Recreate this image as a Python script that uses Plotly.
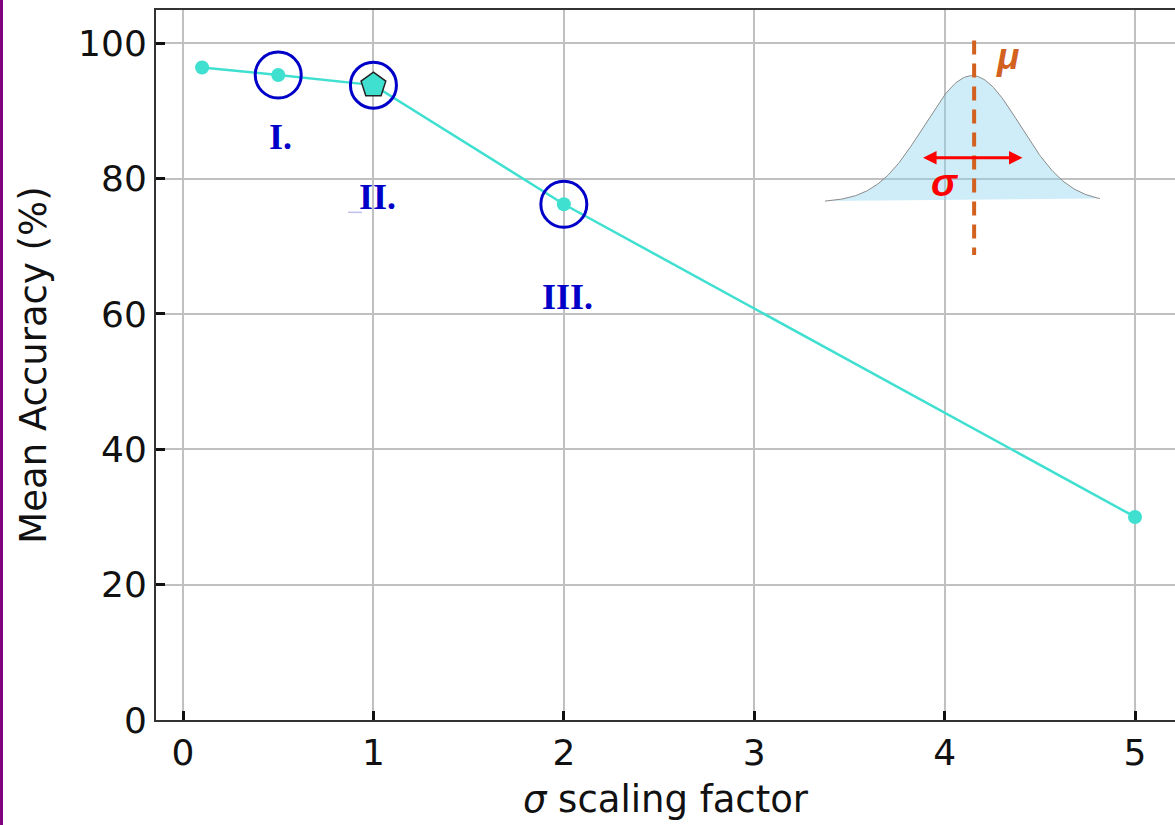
import numpy as np
import plotly.graph_objects as go

# ---- data ----
sigma_scale = [0.1, 0.5, 1, 2, 5]
mean_acc = [96.4, 95.3, 93.8, 76.2, 30.0]
highlight_x = [0.5, 1, 2]
highlight_labels = ["I.", "II.", "III."]
label_pos_x = [0.51, 1.02, 2.02]
label_pos_y = [86.1, 77.2, 62.5]
baseline_x = [1]
x_ticks = [0, 1, 2, 3, 4, 5]
y_ticks = [0, 20, 40, 60, 80, 100]

highlight_y = [mean_acc[sigma_scale.index(v)] for v in highlight_x]
baseline_y = [mean_acc[sigma_scale.index(v)] for v in baseline_x]

TEAL = "#40E0D0"
BLUE = "#0000C8"
FONT = "DejaVu Sans"

fig = go.Figure()

# ---- inset illustration of a Gaussian (decorative) ----
mu_g, sd_g, base_g, amp_g = 4.145, 0.252, 76.5, 18.7
gx = np.linspace(3.372, 4.816, 200)
gy = base_g + amp_g * np.exp(-((gx - mu_g) ** 2) / (2 * sd_g ** 2))
fig.add_trace(go.Scatter(x=gx, y=gy, mode="lines", fill="toself",
                         fillcolor="rgba(140,212,240,0.42)",
                         line=dict(color="#8a8a8a", width=1),
                         hoverinfo="skip", showlegend=False))
fig.add_trace(go.Scatter(x=[4.155, 4.155], y=[100.4, 68.7], mode="lines",
                         line=dict(color="#D2601E", width=4, dash="14px,9px"),
                         hoverinfo="skip", showlegend=False))

# ---- main series ----
fig.add_trace(go.Scatter(x=sigma_scale, y=mean_acc, mode="lines+markers",
                         line=dict(color=TEAL, width=2.5),
                         marker=dict(color=TEAL, size=14),
                         name="Mean accuracy", showlegend=False))
fig.add_trace(go.Scatter(x=baseline_x, y=baseline_y, mode="markers",
                         marker=dict(symbol="pentagon", size=26, color=TEAL,
                                     line=dict(color="#222222", width=1.5)),
                         showlegend=False))
fig.add_trace(go.Scatter(x=highlight_x, y=highlight_y, mode="markers",
                         marker=dict(symbol="circle-open", size=46,
                                     line=dict(color=BLUE, width=3), color=BLUE),
                         showlegend=False))

annotations = []
for lx, ly, t in zip(label_pos_x, label_pos_y, highlight_labels):
    annotations.append(dict(x=lx, y=ly, xref="x", yref="y", text="<b>%s</b>" % t,
                            showarrow=False,
                            font=dict(family="Liberation Serif", size=36, color=BLUE)))

# sigma double arrow
annotations.append(dict(x=4.409, y=83.06, ax=3.879, ay=83.06, xref="x", yref="y",
                        axref="x", ayref="y", text="", showarrow=True,
                        arrowhead=2, arrowside="end+start", arrowsize=0.9,
                        arrowwidth=3, arrowcolor="#FF0000"))
annotations.append(dict(x=4.0, y=79.4, xref="x", yref="y", text="<b><i>σ</i></b>",
                        showarrow=False,
                        font=dict(family="Liberation Sans", size=39, color="#FF0000")))
annotations.append(dict(x=4.33, y=98.0, xref="x", yref="y", text="<b><i>μ</i></b>",
                        showarrow=False,
                        font=dict(family="Liberation Sans", size=37, color="#D2601E")))

# purple frame edge on the left
shapes = [dict(type="rect", xref="paper", yref="paper",
               x0=-0.2, x1=(3 - 156) / 1019, y0=-0.2, y1=1.2,
               fillcolor="#800080", line=dict(width=0), layer="above"),
          dict(type="line", xref="x", yref="y", x0=0.867, x1=0.94, y0=75.0, y1=75.0,
               line=dict(color="rgba(110,110,220,0.45)", width=1.5))]

fig.update_layout(
    width=1175, height=825,
    margin=dict(l=156, r=0, t=10, b=105),
    paper_bgcolor="white", plot_bgcolor="white",
    font=dict(family=FONT, size=36, color="#111111"),
    annotations=annotations, shapes=shapes,
    showlegend=False,
)
fig.update_xaxes(range=[-0.142, 5.21], tickvals=x_ticks, ticks="inside",
                 ticklen=9, tickwidth=2.5, tickcolor="#111111",
                 showline=True, linecolor="#333333", linewidth=2, mirror=True,
                 showgrid=True, gridcolor="#c0c0c0", gridwidth=2, zeroline=False,
                 title=dict(text="<i>σ</i> scaling factor", standoff=14,
                            font=dict(family=FONT, size=37)),
                 tickfont=dict(family=FONT, size=36))
fig.update_yaxes(range=[0, 104.9], tickvals=y_ticks, ticks="inside",
                 ticklen=9, tickwidth=2.5, tickcolor="#111111",
                 showline=True, linecolor="#333333", linewidth=2, mirror=False,
                 showgrid=True, gridcolor="#c0c0c0", gridwidth=2, zeroline=False,
                 title=dict(text="Mean Accuracy (%)", standoff=20,
                            font=dict(family=FONT, size=37)),
                 tickfont=dict(family=FONT, size=36))

fig.write_html("out.html")
